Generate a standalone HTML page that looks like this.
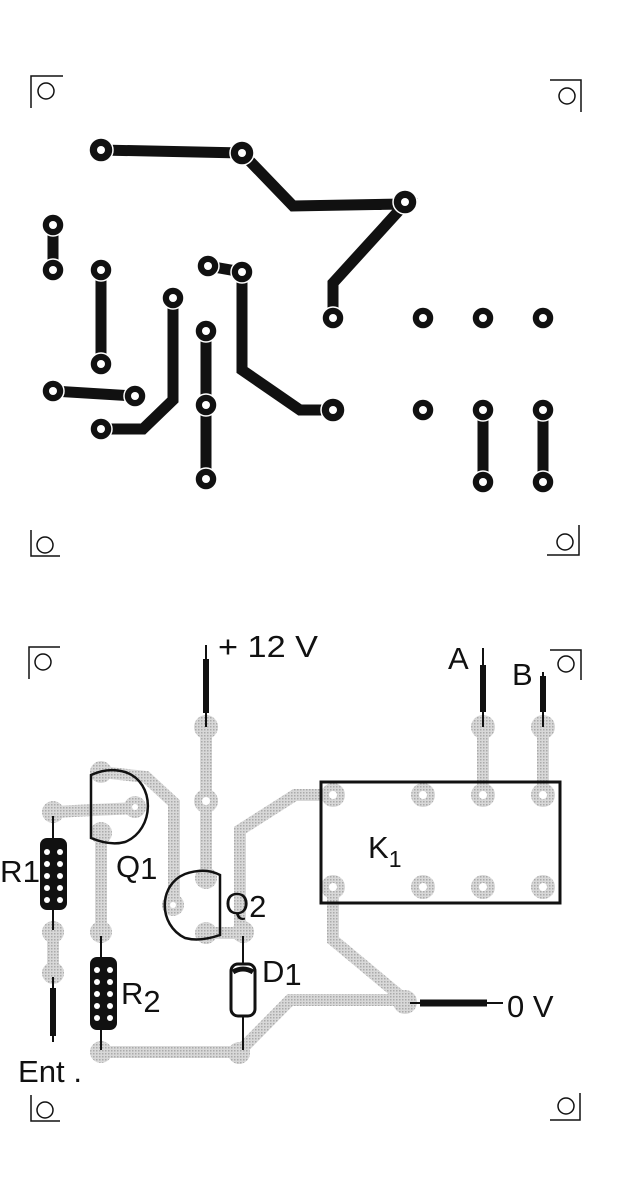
<!DOCTYPE html>
<html><head><meta charset="utf-8"><style>
html,body{margin:0;padding:0;background:#fff}
svg{display:block}
text{font-family:"Liberation Sans",sans-serif;fill:#111}
</style></head><body>
<svg width="635" height="1193" viewBox="0 0 635 1193" xmlns="http://www.w3.org/2000/svg">
<defs>
<pattern id="dot" width="3" height="3" patternUnits="userSpaceOnUse"><rect width="3" height="3" fill="#d8d8d8"/><rect width="1.5" height="1.5" fill="#aaa"/></pattern>
</defs>
<g fill="none" stroke="#111" stroke-width="1.5">
<path d="M31 108V76H63"/><circle cx="46" cy="91" r="8"/>
<path d="M550 80H581V112"/><circle cx="567" cy="96" r="8"/>
<path d="M31 530V556H60"/><circle cx="45" cy="545" r="8"/>
<path d="M579 525V555H547"/><circle cx="565" cy="542" r="8"/>
<path d="M29 679V647H60"/><circle cx="43" cy="662" r="8"/>
<path d="M550 650H581V680"/><circle cx="566" cy="664" r="8"/>
<path d="M31 1095V1121H60"/><circle cx="45" cy="1110" r="8"/>
<path d="M580 1093V1120H550"/><circle cx="566" cy="1106" r="8"/>
</g>
<g fill="none" stroke="#111" stroke-width="11" stroke-linejoin="miter">
<path d="M101 150L242 153L293 206L405 204L333 283V318"/>
<path d="M53 225V270"/>
<path d="M101 270V364"/>
<path d="M208 266L242 272V370L300 410H333"/>
<path d="M173 298V400L143 429H101"/>
<path d="M206 331V479"/>
<path d="M53 391L135 396"/>
<path d="M483 410V482M543 410V482"/>
</g>
<g fill="#111" stroke="#fff" stroke-width="1.5">
<circle cx="101" cy="150" r="12"/><circle cx="242" cy="153" r="12"/><circle cx="405" cy="202" r="12"/>
<circle cx="53" cy="225" r="11"/><circle cx="53" cy="270" r="11"/><circle cx="101" cy="270" r="11"/><circle cx="101" cy="364" r="11"/>
<circle cx="208" cy="266" r="11"/><circle cx="242" cy="272" r="11"/><circle cx="173" cy="298" r="11"/><circle cx="206" cy="331" r="11"/>
<circle cx="333" cy="318" r="11"/><circle cx="423" cy="318" r="11"/><circle cx="483" cy="318" r="11"/><circle cx="543" cy="318" r="11"/>
<circle cx="53" cy="391" r="11"/><circle cx="135" cy="396" r="11"/><circle cx="101" cy="429" r="11"/><circle cx="206" cy="405" r="11"/>
<circle cx="333" cy="410" r="12"/><circle cx="423" cy="410" r="11"/><circle cx="483" cy="410" r="11"/><circle cx="543" cy="410" r="11"/>
<circle cx="206" cy="479" r="11"/><circle cx="483" cy="482" r="11"/><circle cx="543" cy="482" r="11"/>
</g>
<g fill="#fff">
<circle cx="101" cy="150" r="4"/><circle cx="242" cy="153" r="4"/><circle cx="405" cy="202" r="4"/>
<circle cx="53" cy="225" r="4"/><circle cx="53" cy="270" r="4"/><circle cx="101" cy="270" r="4"/><circle cx="101" cy="364" r="4"/>
<circle cx="208" cy="266" r="4"/><circle cx="242" cy="272" r="4"/><circle cx="173" cy="298" r="4"/><circle cx="206" cy="331" r="4"/>
<circle cx="333" cy="318" r="4"/><circle cx="423" cy="318" r="4"/><circle cx="483" cy="318" r="4"/><circle cx="543" cy="318" r="4"/>
<circle cx="53" cy="391" r="4"/><circle cx="135" cy="396" r="4"/><circle cx="101" cy="429" r="4"/><circle cx="206" cy="405" r="4"/>
<circle cx="333" cy="410" r="4"/><circle cx="423" cy="410" r="4"/><circle cx="483" cy="410" r="4"/><circle cx="543" cy="410" r="4"/>
<circle cx="206" cy="479" r="4"/><circle cx="483" cy="482" r="4"/><circle cx="543" cy="482" r="4"/>
</g>
<g fill="none" stroke="url(#dot)" stroke-width="12">
<path d="M206 727V878"/>
<path d="M53 812L135 808"/>
<path d="M101 772L146 777L174 803V905"/>
<path d="M101 833V932"/>
<path d="M53 932V973"/>
<path d="M206 933H240V830L295 795H333"/>
<path d="M101 1052H239L290 1000H405"/>
<path d="M333 887V940L405 1000"/>
<path d="M483 727V795M543 727V795"/>
</g>
<g fill="url(#dot)">
<circle cx="206" cy="727" r="12"/><circle cx="206" cy="801" r="12"/><circle cx="206" cy="878" r="11"/><circle cx="173" cy="905" r="11"/><circle cx="206" cy="933" r="11"/>
<circle cx="101" cy="772" r="11"/><circle cx="135" cy="807" r="11"/><circle cx="101" cy="833" r="11"/>
<circle cx="53" cy="812" r="11"/><circle cx="53" cy="932" r="11"/><circle cx="53" cy="973" r="11"/>
<circle cx="101" cy="932" r="11"/><circle cx="101" cy="1052" r="11"/><circle cx="243" cy="932" r="11"/><circle cx="239" cy="1053" r="11"/>
<circle cx="405" cy="1002" r="12"/><circle cx="483" cy="727" r="12"/><circle cx="543" cy="727" r="12"/>
<circle cx="333" cy="795" r="12"/><circle cx="423" cy="795" r="12"/><circle cx="483" cy="795" r="12"/><circle cx="543" cy="795" r="12"/>
<circle cx="333" cy="887" r="12"/><circle cx="423" cy="887" r="12"/><circle cx="483" cy="887" r="12"/><circle cx="543" cy="887" r="12"/>
</g>
<g fill="#fff">
<circle cx="206" cy="801" r="4"/><circle cx="423" cy="795" r="4"/><circle cx="483" cy="795" r="4"/><circle cx="543" cy="795" r="4"/><circle cx="333" cy="795" r="4"/>
<circle cx="333" cy="887" r="4"/><circle cx="423" cy="887" r="4"/><circle cx="483" cy="887" r="4"/><circle cx="543" cy="887" r="4"/>
<circle cx="135" cy="807" r="3"/><circle cx="173" cy="905" r="3"/>
</g>
<g stroke="#111" fill="none">
<path d="M206 645V727" stroke-width="2"/><path d="M206 659V713" stroke-width="6"/>
<path d="M483 648V727" stroke-width="2"/><path d="M483 665V712" stroke-width="6"/>
<path d="M543 672V727" stroke-width="2"/><path d="M543 676V712" stroke-width="6"/>
<path d="M53 977V1042" stroke-width="2"/><path d="M53 988V1036" stroke-width="6"/>
<path d="M410 1003H503" stroke-width="2"/><path d="M420 1003H487" stroke-width="7"/>
<path d="M53 816V838M53 910V930M101 936V957M101 1030V1050M243 936V963M243 1017V1050" stroke-width="2"/>
</g>
<path d="M91 775V838Q110 846 125 842C155 830 156 782 125 772Q108 767 91 775Z" fill="none" stroke="#111" stroke-width="2.5"/>
<path d="M220 875V935Q200 942 185 938C158 925 158 885 185 874Q205 867 220 875Z" fill="none" stroke="#111" stroke-width="2.5"/>
<rect x="321" y="782" width="239" height="121" fill="none" stroke="#111" stroke-width="3"/>
<g>
<rect x="40" y="838" width="27" height="72" rx="7" fill="#111"/>
<g fill="#fff"><circle cx="47" cy="852" r="3"/><circle cx="60" cy="852" r="3"/><circle cx="47" cy="864" r="3"/><circle cx="60" cy="864" r="3"/><circle cx="47" cy="876" r="3"/><circle cx="60" cy="876" r="3"/><circle cx="47" cy="888" r="3"/><circle cx="60" cy="888" r="3"/><circle cx="47" cy="900" r="3"/><circle cx="60" cy="900" r="3"/></g>
<rect x="90" y="957" width="27" height="73" rx="7" fill="#111"/>
<g fill="#fff"><circle cx="97" cy="970" r="3"/><circle cx="110" cy="970" r="3"/><circle cx="97" cy="982" r="3"/><circle cx="110" cy="982" r="3"/><circle cx="97" cy="994" r="3"/><circle cx="110" cy="994" r="3"/><circle cx="97" cy="1006" r="3"/><circle cx="110" cy="1006" r="3"/><circle cx="97" cy="1018" r="3"/><circle cx="110" cy="1018" r="3"/></g>
<rect x="231" y="964" width="24" height="52" rx="7" fill="#fff" stroke="#111" stroke-width="3"/>
<path d="M233 972Q243 966 253 972" stroke="#111" stroke-width="5" fill="none"/>
</g>
<g font-size="31">
<text x="218" y="657" textLength="100" lengthAdjust="spacingAndGlyphs">+ 12 V</text>
<text x="448" y="669">A</text>
<text x="512" y="685">B</text>
<text x="368" y="858">K<tspan font-size="23" dy="9">1</tspan></text>
<text x="116" y="877">Q<tspan dy="2">1</tspan></text>
<text x="225" y="914">Q<tspan dy="3">2</tspan></text>
<text x="0" y="882" textLength="40" lengthAdjust="spacingAndGlyphs">R1</text>
<text x="121" y="1004">R<tspan dy="8">2</tspan></text>
<text x="262" y="982">D<tspan dy="3">1</tspan></text>
<text x="507" y="1017">0 V</text>
<text x="18" y="1082" textLength="64" lengthAdjust="spacingAndGlyphs">Ent .</text>
</g>
</svg>
</body></html>
